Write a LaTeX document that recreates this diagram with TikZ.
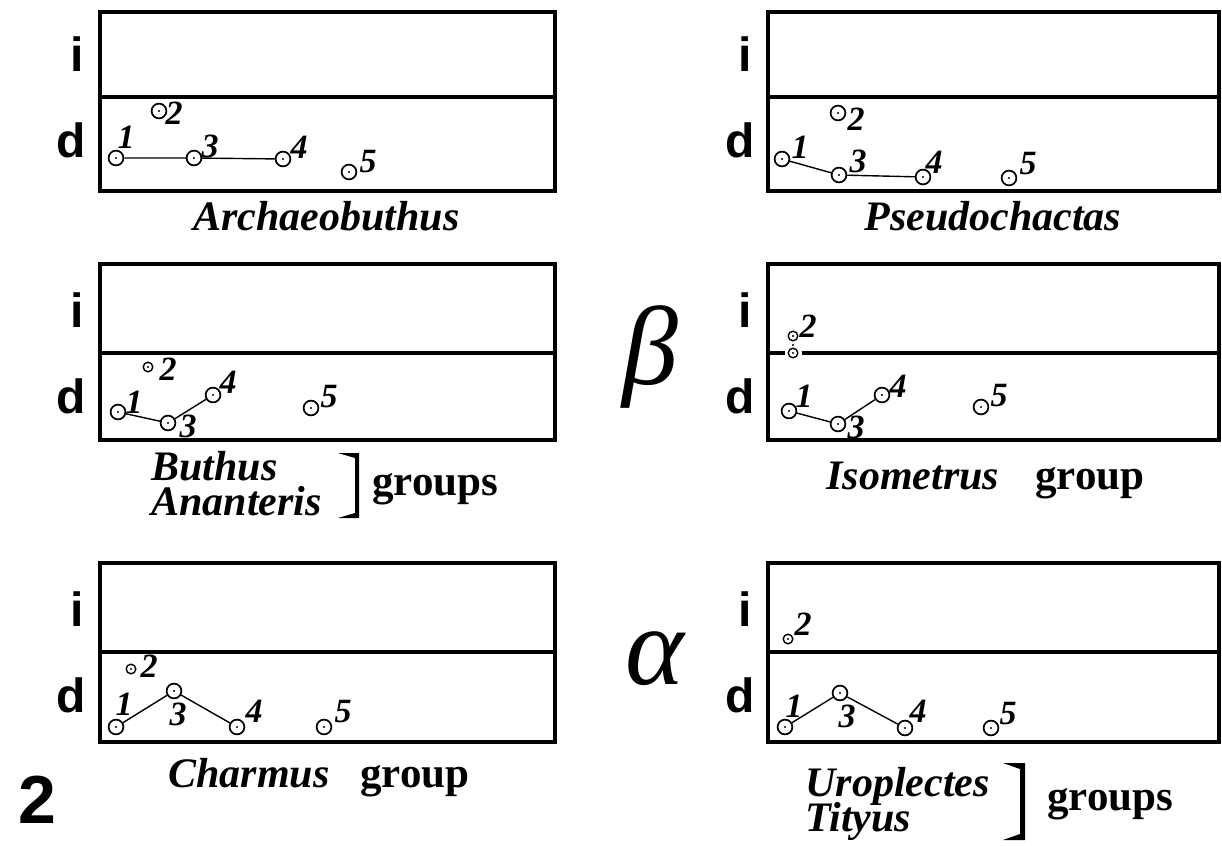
\documentclass[tikz,border=0pt]{standalone}
\usepackage{fontspec}
\setmainfont{Liberation Serif}
\newfontfamily\sanslab{Liberation Sans}

\tikzset{
  frame/.style={line width=1.8pt},
  tie/.style={line width=0.7pt},
  spot/.style={circle, draw, line width=0.85pt, inner sep=0pt, minimum size=7.4pt,
    path picture={\fill (path picture bounding box.center) circle (0.6pt);}},
  minispot/.style={spot, minimum size=4.8pt, line width=0.7pt},
  pip/.style={circle, fill, inner sep=0pt, minimum size=1.1pt},
  num/.style={inner sep=0pt, font=\fontsize{17}{17}\selectfont\bfseries\itshape},
  zone/.style={inner sep=0pt, font=\sanslab\fontsize{24}{24}\selectfont\bfseries},
  taxon/.style={inner sep=0pt, anchor=base west, font=\fontsize{21}{21}\selectfont\bfseries\itshape},
  taxpair/.style={inner sep=0pt, anchor=north west, align=left,
    font=\fontsize{21}{17.5}\selectfont\bfseries\itshape},
  grp/.style={inner sep=0pt, anchor=base west, font=\fontsize{21.5}{21.5}\selectfont\bfseries},
  greek/.style={inner sep=0pt, font=\fontsize{56}{56}\selectfont\itshape},
  brace/.style={fill=black}
}

\begin{document}
\setlength{\lineskiplimit}{-20pt}
\begin{tikzpicture}[x=0.5pt, y=-0.5pt]
\useasboundingbox (0,0) rectangle (1222,846);

% frames
\draw[frame] (100,12) rectangle (555,191);
\draw[frame] (100,97) -- (555,97);
\draw[frame] (768,12) rectangle (1219,191);
\draw[frame] (768,97) -- (1219,97);
\draw[frame] (100,264) rectangle (555,440);
\draw[frame] (100,353) -- (555,353);
\draw[frame] (768,264) rectangle (1219,440);
\draw[frame] (100,563) rectangle (555,742);
\draw[frame] (100,652) -- (555,652);
\draw[frame] (768,563) rectangle (1219,742);
\draw[frame] (768,652) -- (1219,652);

% i / d
\foreach \m [count=\k] in {97,353,652} {
  \node[zone] (il\k) at (77,\m-43) {i};
  \node[zone] (dl\k) at (71,\m+43) {d};
  \node[zone] (ir\k) at (745,\m-43) {i};
  \node[zone] (dr\k) at (740,\m+43) {d};
}

% Archaeobuthus
\foreach \n/\x/\y/\lx/\ly in {1/116/158/126/137, 2/159/111/174/113, 3/194/158/210/146, 4/283/159/299/147, 5/349/172/368/162} {
  \node[spot] (a\n) at (\x,\y) {};
  \node[num] (a\n n) at (\lx,\ly) {\n};
}
\draw[tie] (a1) -- (a3) -- (a4);
\node[taxon] (arch) at (193,230) {Archaeobuthus};

% Pseudochactas
\foreach \n/\x/\y/\lx/\ly in {1/782/159/800/147, 2/838/113/856/119, 3/839/175/858/161, 4/923/177/934/162, 5/1009/178/1028/164} {
  \node[spot] (p\n) at (\x,\y) {};
  \node[num] (p\n n) at (\lx,\ly) {\n};
}
\draw[tie] (p1) -- (p3) -- (p4);
\node[taxon] (pseudo) at (864,230) {Pseudochactas};

% Buthus, Ananteris
\foreach \n/\x/\y/\lx/\ly in {1/118/412/134/402, 3/168/423/188/426, 4/213/395/228/382, 5/311/408/329/397} {
  \node[spot] (b\n) at (\x,\y) {};
  \node[num] (b\n n) at (\lx,\ly) {\n};
}
\node[minispot] (b2) at (148,367) {};
\node[num] (b2n) at (168,369) {2};
\draw[tie] (b1) -- (b3) -- (b4);
\node[taxpair] (butana) at (151,451) {Buthus\\Ananteris};
\fill[brace] (338,453) -- (359,453) -- (359,518) -- (338,518) -- (355,513) -- (355,458) -- cycle;
\node[grp] (groupsb) at (372,495) {groups};

% Isometrus
\node[minispot] (s2) at (793,336) {};
\node[pip] (s2c) at (793,345) {};
\node[minispot] (s2b) at (793,353) {};
\node[num] (s2n) at (808,326) {2};
\draw[frame] (768,353) -- ([xshift=-1.5pt]s2b.west);
\draw[frame] ([xshift=1.5pt]s2b.east) -- (1219,353);
\foreach \n/\x/\y/\lx/\ly in {1/789/411/804/396, 3/838/424/856/427, 4/882/395/898/386, 5/981/407/999/396} {
  \node[spot] (s\n) at (\x,\y) {};
  \node[num] (s\n n) at (\lx,\ly) {\n};
}
\draw[tie] (s1) -- (s3) -- (s4);
\node[taxon] (isometrus) at (826,489) {Isometrus};
\node[grp] (groups) at (1035,489) {group};

% Charmus
\foreach \n/\x/\y/\lx/\ly in {1/116/727/124/704, 3/174/691/178/714, 4/237/727/254/711, 5/324/727/343/712} {
  \node[spot] (c\n) at (\x,\y) {};
  \node[num] (c\n n) at (\lx,\ly) {\n};
}
\node[minispot] (c2) at (131,669) {};
\node[num] (c2n) at (149,666) {2};
\draw[tie] (c1) -- (c3) -- (c4);
\node[taxon] (charmus) at (168,787) {Charmus};
\node[grp] (groupc) at (360,787) {group};

% Uroplectes, Tityus
\foreach \n/\x/\y/\lx/\ly in {1/785/727/794/706, 3/840/693/847/716, 4/905/728/918/711, 5/991/728/1008/714} {
  \node[spot] (u\n) at (\x,\y) {};
  \node[num] (u\n n) at (\lx,\ly) {\n};
}
\node[minispot] (u2) at (788,639) {};
\node[num] (u2n) at (803,624) {2};
\draw[tie] (u1) -- (u3) -- (u4);
\node[taxpair] (urotit) at (805,767) {Uroplectes\\Tityus};
\fill[brace] (1003,763) -- (1025,763) -- (1025,840) -- (1003,840) -- (1020,834) -- (1020,769) -- cycle;
\node[grp] (groupsu) at (1047,810) {groups};

% greek letters
\node[greek] (beta) at (650,357) {β};
\node[greek] (alpha) at (655,659) {α};

\node[zone, font=\sanslab\fontsize{34}{34}\selectfont\bfseries] (fig) at (37,800) {2};
\end{tikzpicture}
\end{document}
